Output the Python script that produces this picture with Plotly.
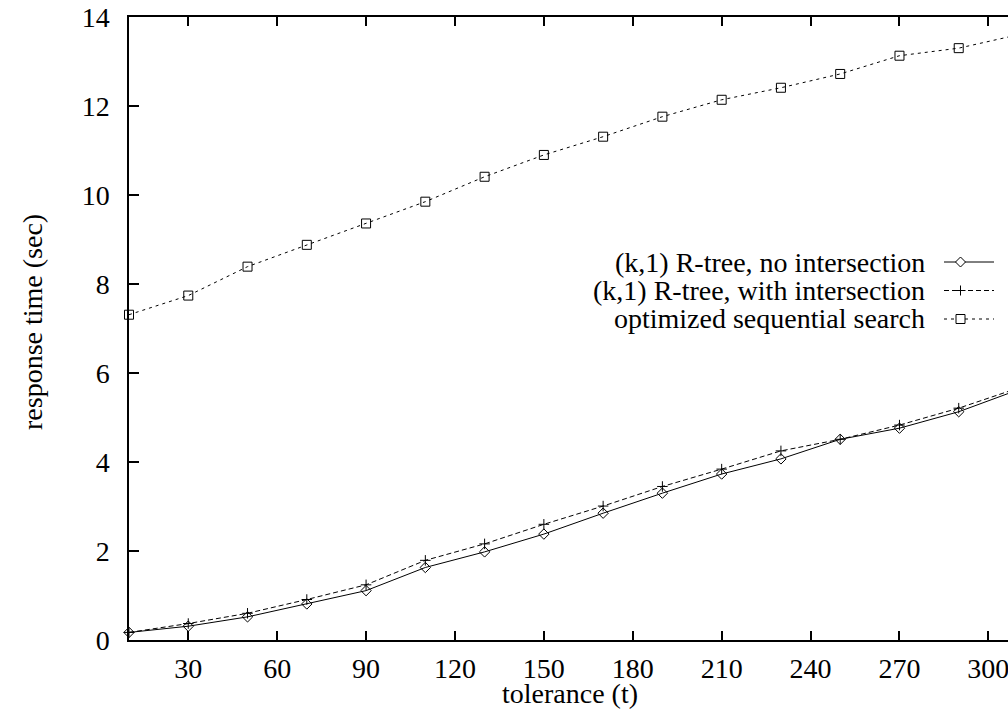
import plotly.graph_objects as go

tolerance = [10, 30, 50, 70, 90, 110, 130, 150, 170, 190, 210, 230, 250, 270, 290, 310]
no_intersection = [0.17, 0.31, 0.52, 0.81, 1.11, 1.63, 1.98, 2.38, 2.85, 3.30, 3.73, 4.07, 4.51, 4.76, 5.13, 5.62]
with_intersection = [0.17, 0.37, 0.60, 0.91, 1.24, 1.79, 2.16, 2.60, 3.01, 3.45, 3.84, 4.25, 4.51, 4.83, 5.21, 5.66]
sequential = [7.31, 7.74, 8.39, 8.88, 9.36, 9.85, 10.41, 10.90, 11.31, 11.76, 12.14, 12.41, 12.72, 13.13, 13.30, 13.60]
names = ["(k,1) R-tree, no intersection", "(k,1) R-tree, with intersection", "optimized sequential search"]
x_ticks = [30, 60, 90, 120, 150, 180, 210, 240, 270, 300]
y_ticks = [0, 2, 4, 6, 8, 10, 12, 14]

FONT = "Liberation Serif"
FS = 28
W, H = 1008, 713
L, R, T, B = 129, 0, 17, 73
PW, PH = W - L - R, H - T - B

styles = [
    dict(dash="solid", symbol="diamond-open", size=8),
    dict(dash="5px,3px", symbol="cross-thin-open", size=7.5),
    dict(dash="3px,4px", symbol="square-open", size=9),
]
series = [no_intersection, with_intersection, sequential]

fig = go.Figure()
for name, ys, st in zip(names, series, styles):
    fig.add_trace(go.Scatter(
        x=tolerance, y=ys, mode="lines+markers", name=name, showlegend=False,
        line=dict(color="black", width=1, dash=st["dash"]),
        marker=dict(symbol=st["symbol"], size=st["size"], color="black",
                    line=dict(color="black", width=1)),
        cliponaxis=False,
    ))

def px_x(px):
    return (px - L) / PW

def px_y(py):
    return (H - B - py) / PH

# manual legend: text right-aligned, sample to the right
rows_y = [262, 290.5, 319]
text_right = 927
seg_x0, seg_x1, mark_x = 944, 994, 960.5
annotations = []
shapes = []
for i, (name, st) in enumerate(zip(names, styles)):
    yy = rows_y[i]
    annotations.append(dict(x=px_x(text_right), y=px_y(yy), xref="paper", yref="paper",
                            text=name, showarrow=False, xanchor="right", yanchor="middle",
                            font=dict(family=FONT, size=FS, color="black")))
    shapes.append(dict(type="line", xref="paper", yref="paper",
                       x0=px_x(seg_x0), x1=px_x(seg_x1), y0=px_y(yy), y1=px_y(yy),
                       line=dict(color="black", width=1, dash=st["dash"])))
    if st["symbol"].startswith("diamond"):
        h = 5
        path = "M {} {} L {} {} L {} {} L {} {} Z".format(
            px_x(mark_x - h), px_y(yy), px_x(mark_x), px_y(yy - h),
            px_x(mark_x + h), px_y(yy), px_x(mark_x), px_y(yy + h))
        shapes.append(dict(type="path", xref="paper", yref="paper", path=path,
                           fillcolor="white", line=dict(color="black", width=1)))
    elif st["symbol"].startswith("cross"):
        h = 5
        shapes.append(dict(type="line", xref="paper", yref="paper",
                           x0=px_x(mark_x - h), x1=px_x(mark_x + h), y0=px_y(yy), y1=px_y(yy),
                           line=dict(color="black", width=1)))
        shapes.append(dict(type="line", xref="paper", yref="paper",
                           x0=px_x(mark_x), x1=px_x(mark_x), y0=px_y(yy - h), y1=px_y(yy + h),
                           line=dict(color="black", width=1)))
    else:
        h = 4.5
        shapes.append(dict(type="rect", xref="paper", yref="paper",
                           x0=px_x(mark_x - h), x1=px_x(mark_x + h), y0=px_y(yy - h), y1=px_y(yy + h),
                           fillcolor="white", line=dict(color="black", width=1)))

# axis titles
annotations.append(dict(x=px_x(570), y=px_y(693), xref="paper", yref="paper", text="tolerance (t)",
                        showarrow=False, xanchor="center", yanchor="middle",
                        font=dict(family=FONT, size=FS, color="black")))
annotations.append(dict(x=px_x(32), y=px_y(322), xref="paper", yref="paper", text="response time (sec)",
                        showarrow=False, xanchor="center", yanchor="middle", textangle=-90,
                        font=dict(family=FONT, size=FS, color="black")))

x_right = 10 + (W - L) / (88.9 / 30)

fig.update_layout(
    width=W, height=H,
    margin=dict(l=L, r=R, t=T, b=B, pad=0),
    paper_bgcolor="white", plot_bgcolor="white",
    font=dict(family=FONT, size=FS, color="black"),
    annotations=annotations, shapes=shapes,
    xaxis=dict(range=[10, x_right], tickvals=x_ticks, ticktext=[str(v) for v in x_ticks],
               ticks="inside", ticklen=9, tickwidth=1.5, tickcolor="black",
               showline=True, linecolor="black", linewidth=1.5, mirror="ticks",
               showgrid=False, zeroline=False, ticklabelstandoff=3,
               ticklabeloverflow="allow",
               tickfont=dict(family=FONT, size=FS, color="black")),
    yaxis=dict(range=[0, 14], tickvals=y_ticks, ticktext=[str(v) for v in y_ticks],
               ticks="inside", ticklen=10, tickwidth=1.5, tickcolor="black",
               showline=True, linecolor="black", linewidth=1.5, mirror=False,
               showgrid=False, zeroline=False, ticklabelstandoff=12,
               ticklabeloverflow="allow",
               tickfont=dict(family=FONT, size=FS, color="black")),
)

fig.write_html("out.html")
